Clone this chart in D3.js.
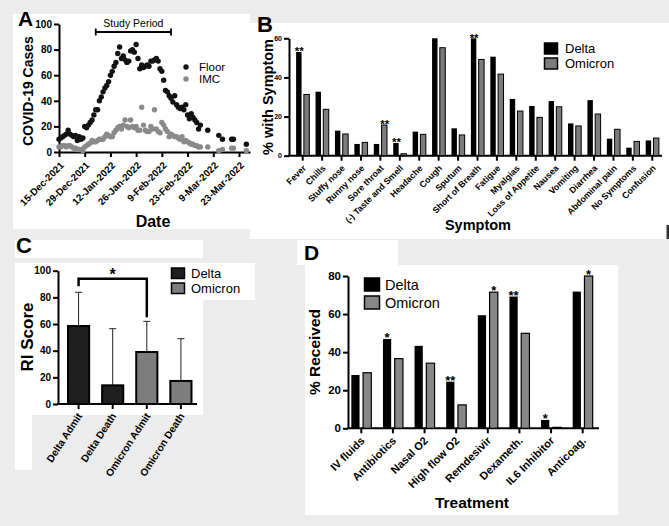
<!DOCTYPE html>
<html><head><meta charset="utf-8">
<script src="https://cdn.jsdelivr.net/npm/d3@7"></script>
<style>body{margin:0;background:#ececec} svg{display:block}</style>
</head><body><svg id="fig" width="669" height="526"></svg>
<script>
// ---------- DATA ----------
// Panel A
const caseDates = ["2021-12-15","2021-12-16","2021-12-17","2021-12-18","2021-12-19","2021-12-20","2021-12-21","2021-12-22","2021-12-23","2021-12-24","2021-12-25","2021-12-26","2021-12-27","2021-12-28","2021-12-29","2021-12-30","2021-12-31",
"2022-01-01","2022-01-02","2022-01-03","2022-01-04","2022-01-05","2022-01-06","2022-01-07","2022-01-08","2022-01-09","2022-01-10","2022-01-11","2022-01-12","2022-01-13","2022-01-14","2022-01-15","2022-01-16","2022-01-17","2022-01-18","2022-01-19","2022-01-20","2022-01-21","2022-01-22","2022-01-23","2022-01-24","2022-01-25","2022-01-26","2022-01-27","2022-01-28","2022-01-29","2022-01-30","2022-01-31",
"2022-02-01","2022-02-02","2022-02-03","2022-02-04","2022-02-05","2022-02-06","2022-02-07","2022-02-08","2022-02-09","2022-02-10","2022-02-11","2022-02-12","2022-02-13","2022-02-14","2022-02-15","2022-02-16","2022-02-17","2022-02-18","2022-02-19","2022-02-20","2022-02-21","2022-02-22","2022-02-23","2022-02-24","2022-02-25","2022-02-26","2022-02-27","2022-02-28",
"2022-03-01","2022-03-02","2022-03-06","2022-03-12","2022-03-14","2022-03-19","2022-03-20","2022-03-27"];
const floorCases = [10,11,12,13,14,17,14,13,12,13, 9,12,10,11,20,19,21,23,25,29, 33,33,40,43,47,50,52,55,60,63, 67,70,77,82,73,75,72,70,71,79, 80,78,84,73,65,68,66,67,68,67, 71,71,72,73,71,65,63,56,48,47, 44,42,39,44,37,35,34,35,33,37, 29,26,30,27,25,23,18,21, 17,13,10,10,10,6];
const imcCases = [4,4,5,5,4,5,5,4,3,3, 2,2,2,1,4,5,6,7,9,8, 8,9,10,10,10,12,14,13,12,12, 15,17,19,20,18,21,25,20,19,25, 20,19,20,17,17,35,21,17,16,16, 20,18,33,18,16,15,23,21,18,16, 12,14,13,12,12,11,10,12,8,9, 8,7,6,6,5,5,4,4, 4,1,2,3,3,1];
const dateTicks = ["2021-12-15","2021-12-29","2022-01-12","2022-01-26","2022-02-09","2022-02-23","2022-03-09","2022-03-23"];
const dateTickLabels = ["15-Dec-2021","29-Dec-2021","12-Jan-2022","26-Jan-2022","9-Feb-2022","23-Feb-2022","9-Mar-2022","23-Mar-2022"];
const studyPeriod = ["2022-01-04","2022-02-14"];
const casesTicks = [0,20,40,60,80,100];

// Panel B
const symptoms = ["Fever","Chills","Stuffy nose","Runny nose","Sore throat","(-) Taste and Smell","Headache","Cough","Sputum","Short of Breath","Fatigue","Myalgias","Loss of Appetite","Nausea","Vomiting","Diarrhea","Abdominal pain","No Symptoms","Confusion"];
const symptomDelta   = [53,32.7,12.8,6,6,6.5,12.3,60,14,60,50.6,29,25.4,27.9,16.5,28.4,8.7,4.1,7.8];
const symptomOmicron = [31.3,23.7,11.1,6.8,15.7,1,10.9,55.2,10.6,49.2,41.7,22.8,19.6,25,15.2,21.3,13.5,7.3,9];
const symptomDeltaSig   = ["**","","","","","**","","","","**","","","","","","","","",""];
const symptomOmicronSig = ["","","","","**","","","","","","","","","","","","","",""];
const symptomTicks = [0,20,40,60];

// Panel C
const riGroups = ["Delta Admit","Delta Death","Omicron Admit","Omicron Death"];
const riVariant = ["Delta","Delta","Omicron","Omicron"];
const riMean = [58.5,14,39,17.3];
const riSD = [25.3,42.5,23,31.7];
const riCompare = ["Delta Admit","Omicron Admit","*"];
const riTicks = [0,20,40,60,80,100];

// Panel D
const treatments = ["IV fluids","Antibiotics","Nasal O2","High flow O2","Remdesivir","Dexameth.","IL6 Inhibitor","Anticoag."];
const treatDelta   = [28,46.9,43.3,24.5,59.4,69.2,4.4,71.8];
const treatOmicron = [29.2,36.6,34.2,12.3,71.5,49.9,0.5,80];
const treatDeltaSig   = ["","*","","**","","**","*",""];
const treatOmicronSig = ["","","","","*","","","*"];
const treatTicks = [0,20,40,60,80];

const variants = ["Delta","Omicron"];

// ---------- DRAW ----------
const FONT = '"Liberation Sans", Arial, Helvetica, sans-serif';
const svg = d3.select("#fig").attr("font-family", FONT);
svg.append("rect").attr("width",669).attr("height",526).attr("fill","#ececec");
const bgW = svg.append("g").attr("fill","#fff");
[[13,14,237,215],[250,23,419,216],[15,240,188,18],[15,263,188,152],[15,415,17,55],[203,263,52,37],[297,240,101,25],[305,265,313,250]]
  .forEach(r => bgW.append("rect").attr("x",r[0]).attr("y",r[1]).attr("width",r[2]).attr("height",r[3]));
svg.append("rect").attr("x",666.5).attr("y",225).attr("width",2.5).attr("height",14).attr("fill","#333");

function styleAxis(g, fs, sw) {
  g.attr("font-family", FONT).attr("font-size", fs).attr("font-weight","bold");
  g.select(".domain").attr("stroke","#000").attr("stroke-width", sw);
  g.selectAll(".tick line").attr("stroke","#000").attr("stroke-width", sw);
  g.selectAll(".tick text").attr("fill","#000");
}
function rotate(g, angle, dx, dy) {
  g.selectAll(".tick text").attr("x",0).attr("y",0).attr("dy","0")
   .attr("text-anchor","end").attr("transform",`translate(${dx},${dy}) rotate(${angle})`);
}
function panelLabel(t, x, y, fs) {
  svg.append("text").attr("x",x).attr("y",y).attr("font-size",fs).attr("font-weight","bold").text(t);
}
function yTitle(t, x, y, fs) {
  svg.append("text").attr("transform",`translate(${x},${y}) rotate(-90)`).attr("text-anchor","middle")
    .attr("font-size",fs).attr("font-weight","bold").text(t);
}
function xTitle(t, x, y, fs) {
  svg.append("text").attr("x",x).attr("y",y).attr("text-anchor","middle").attr("font-size",fs).attr("font-weight","bold").text(t);
}

// ===== Panel A =====
const parse = d3.timeParse("%Y-%m-%d");
const xA = d3.scaleTime().domain([parse("2021-12-15"), parse("2022-03-29")]).range([59, 250]);
const yA = d3.scaleLinear().domain([0,100]).range([152, 24]);
const gAy = svg.append("g").attr("transform","translate(59,0)")
  .call(d3.axisLeft(yA).tickValues(casesTicks).tickSize(5).tickSizeOuter(0).tickPadding(2));
styleAxis(gAy, 10, 2);
const gAx = svg.append("g").attr("transform","translate(0,152)")
  .call(d3.axisBottom(xA).tickValues(dateTicks.map(parse)).tickSize(5).tickSizeOuter(0)
    .tickFormat((d,i) => dateTickLabels[i]));
styleAxis(gAx, 9.8, 2);
rotate(gAx, -45, 5, 14);
const ptsA = caseDates.map((d,i) => ({d: parse(d), floor: floorCases[i], imc: imcCases[i]}));
svg.append("g").selectAll("circle").data(ptsA).join("circle")
  .attr("cx", p => xA(p.d)).attr("cy", p => yA(p.imc)).attr("r", 2.7).attr("fill","#8a8a8a");
svg.append("g").selectAll("circle").data(ptsA).join("circle")
  .attr("cx", p => xA(p.d)).attr("cy", p => yA(p.floor)).attr("r", 2.7).attr("fill","#121212");
// study period bracket
{
  const x0 = xA(parse(studyPeriod[0])), x1 = xA(parse(studyPeriod[1]));
  svg.append("path").attr("d",`M${x0},28.5V35.5M${x0},32H${x1}M${x1},28.5V35.5`).attr("stroke","#000").attr("stroke-width",1.8).attr("fill","none");
  svg.append("text").attr("x",(x0+x1)/2).attr("y",27).attr("text-anchor","middle").attr("font-size",10.5).text("Study Period");
}
// legend A
[["Floor","#121212",67],["IMC","#8a8a8a",79]].forEach(l => {
  svg.append("circle").attr("cx",186).attr("cy",l[2]).attr("r",2.7).attr("fill",l[1]);
  svg.append("text").attr("x",199).attr("y",l[2]+4).attr("font-size",11.5).text(l[0]);
});
yTitle("COVID-19 Cases", 33, 91, 14);
xTitle("Date", 153, 227, 16);
panelLabel("A", 18, 26, 21);

// ===== Panel B =====
const xB = d3.scaleBand().domain(symptoms).range([293, 662]).paddingInner(0).paddingOuter(0);
const xB1 = d3.scaleBand().domain(variants).range([-6.6, 6.6]).paddingInner(0.3);
const yB = d3.scaleLinear().domain([0,60]).range([155.7, 38.3]);
const gBy = svg.append("g").attr("transform","translate(289,0)")
  .call(d3.axisLeft(yB).tickValues(symptomTicks).tickSize(5).tickSizeOuter(0).tickPadding(2));
styleAxis(gBy, 7, 2);
const gBx = svg.append("g").attr("transform","translate(0,155.7)")
  .call(d3.axisBottom(xB).tickSize(5).tickSizeOuter(0));
styleAxis(gBx, 8.8, 2);
gBx.select(".domain").remove();
svg.append("line").attr("x1",288).attr("x2",662).attr("y1",155.7).attr("y2",155.7).attr("stroke","#000").attr("stroke-width",2);
rotate(gBx, -45, 4, 13);
const barsB = symptoms.flatMap((s,i) => [
  {cat:s, v:"Delta", val:symptomDelta[i], sig:symptomDeltaSig[i]},
  {cat:s, v:"Omicron", val:symptomOmicron[i], sig:symptomOmicronSig[i]}]);
svg.append("g").selectAll("rect").data(barsB).join("rect")
  .attr("x", d => xB(d.cat) + xB.bandwidth()/2 + xB1(d.v))
  .attr("y", d => yB(d.val)).attr("width", xB1.bandwidth())
  .attr("height", d => yB(0) - yB(d.val))
  .attr("fill", d => d.v === "Delta" ? "#000" : "#7c7c7c")
  .attr("stroke","#000").attr("stroke-width", d => d.v === "Delta" ? 0 : 1);
svg.append("g").selectAll("text").data(barsB.filter(d => d.sig)).join("text")
  .attr("x", d => xB(d.cat) + xB.bandwidth()/2 + xB1(d.v) + xB1.bandwidth()/2 + 0.5)
  .attr("y", d => yB(d.val) + 3.5).attr("text-anchor","middle").attr("font-size",11.5).attr("font-weight","bold")
  .text(d => d.sig);
[["Delta","#000",43],["Omicron","#7c7c7c",58]].forEach(l => {
  svg.append("rect").attr("x",544.5).attr("y",l[2]).attr("width",13).attr("height",11)
    .attr("fill",l[1]).attr("stroke","#000").attr("stroke-width",1.5);
  svg.append("text").attr("x",565).attr("y",l[2]+10).attr("font-size",13).text(l[0]);
});
yTitle("% with Symptom", 273, 97, 14.5);
xTitle("Symptom", 478, 230, 14.5);
panelLabel("B", 257, 32, 22);

// ===== Panel C =====
const xC = d3.scaleBand().domain(riGroups).range([68, 191.5]).paddingInner(0.38).paddingOuter(0);
const yC = d3.scaleLinear().domain([0,100]).range([404, 270.7]);
const gCy = svg.append("g").attr("transform","translate(58,0)")
  .call(d3.axisLeft(yC).tickValues(riTicks).tickSize(5).tickSizeOuter(0).tickPadding(2));
styleAxis(gCy, 10, 2);
const gCx = svg.append("g").attr("transform","translate(0,404)")
  .call(d3.axisBottom(xC).tickSize(5).tickSizeOuter(0));
styleAxis(gCx, 10.2, 2);
gCx.select(".domain").remove();
svg.append("line").attr("x1",57).attr("x2",197).attr("y1",404).attr("y2",404).attr("stroke","#000").attr("stroke-width",2);
rotate(gCx, -57, 4, 12);
const dC = riGroups.map((g,i) => ({g, v:riVariant[i], m:riMean[i], sd:riSD[i]}));
const gC = svg.append("g");
dC.forEach(d => {
  const cx = xC(d.g) + xC.bandwidth()/2;
  gC.append("line").attr("x1",cx).attr("x2",cx).attr("y1",yC(d.m)).attr("y2",yC(d.m+d.sd)).attr("stroke","#222").attr("stroke-width",1);
  gC.append("line").attr("x1",cx-3.5).attr("x2",cx+3.5).attr("y1",yC(d.m+d.sd)).attr("y2",yC(d.m+d.sd)).attr("stroke","#222").attr("stroke-width",1);
});
gC.selectAll("rect").data(dC).join("rect")
  .attr("x", d => xC(d.g)).attr("y", d => yC(d.m)).attr("width", xC.bandwidth())
  .attr("height", d => yC(0) - yC(d.m))
  .attr("fill", d => d.v === "Delta" ? "#1e1e1e" : "#7d7d7d").attr("stroke","#000").attr("stroke-width",2);
{
  const a = dC.find(d => d.g === riCompare[0]), b = dC.find(d => d.g === riCompare[1]);
  const xa = xC(a.g) + xC.bandwidth()/2, xb = xC(b.g) + xC.bandwidth()/2;
  const yTop = yC(94);
  svg.append("path").attr("d",`M${xa},${yC(a.m+a.sd)-6}V${yTop}H${xb}V${yC(b.m+b.sd)-4}`)
    .attr("fill","none").attr("stroke","#000").attr("stroke-width",2.5);
  svg.append("text").attr("x",(xa+xb)/2).attr("y",yTop+1.5).attr("text-anchor","middle").attr("font-size",16).attr("font-weight","bold").text(riCompare[2]);
}
[["Delta","#1e1e1e",268],["Omicron","#7d7d7d",283]].forEach(l => {
  svg.append("rect").attr("x",171.5).attr("y",l[2]).attr("width",13).attr("height",10.5)
    .attr("fill",l[1]).attr("stroke","#000").attr("stroke-width",1.5);
  svg.append("text").attr("x",191).attr("y",l[2]+10).attr("font-size",13).text(l[0]);
});
yTitle("RI Score", 33, 337, 17);
panelLabel("C", 16, 253, 22);

// ===== Panel D =====
const xD = d3.scaleBand().domain(treatments).range([345.5, 598.5]).paddingInner(0).paddingOuter(0);
const xD1 = d3.scaleBand().domain(variants).range([-10, 10]).paddingInner(0.3);
const yD = d3.scaleLinear().domain([0,80]).range([428.3, 276]);
const gDy = svg.append("g").attr("transform","translate(348,0)")
  .call(d3.axisLeft(yD).tickValues(treatTicks).tickSize(5).tickSizeOuter(0).tickPadding(2));
styleAxis(gDy, 11.5, 2);
const gDx = svg.append("g").attr("transform","translate(0,428.3)")
  .call(d3.axisBottom(xD).tickSize(5).tickSizeOuter(0));
styleAxis(gDx, 11, 2);
gDx.select(".domain").remove();
svg.append("line").attr("x1",347).attr("x2",599).attr("y1",428.3).attr("y2",428.3).attr("stroke","#000").attr("stroke-width",2);
rotate(gDx, -45, 4, 13);
const barsD = treatments.flatMap((t,i) => [
  {cat:t, v:"Delta", val:treatDelta[i], sig:treatDeltaSig[i]},
  {cat:t, v:"Omicron", val:treatOmicron[i], sig:treatOmicronSig[i]}]);
svg.append("g").selectAll("rect").data(barsD).join("rect")
  .attr("x", d => xD(d.cat) + xD.bandwidth()/2 + xD1(d.v))
  .attr("y", d => yD(d.val)).attr("width", xD1.bandwidth())
  .attr("height", d => yD(0) - yD(d.val))
  .attr("fill", d => d.v === "Delta" ? "#000" : "#878787")
  .attr("stroke","#000").attr("stroke-width", d => d.v === "Delta" ? 0 : 1.2);
svg.append("g").selectAll("text").data(barsD.filter(d => d.sig)).join("text")
  .attr("x", d => xD(d.cat) + xD.bandwidth()/2 + xD1(d.v) + xD1.bandwidth()/2)
  .attr("y", d => yD(d.val) + 3).attr("text-anchor","middle").attr("font-size",13).attr("font-weight","bold")
  .text(d => d.sig);
[["Delta","#000",278],["Omicron","#878787",296]].forEach(l => {
  svg.append("rect").attr("x",364.5).attr("y",l[2]).attr("width",15).attr("height",13)
    .attr("fill",l[1]).attr("stroke","#000").attr("stroke-width",1.5);
  svg.append("text").attr("x",385).attr("y",l[2]+12).attr("font-size",14.5).text(l[0]);
});
yTitle("% Received", 320, 352, 15.5);
xTitle("Treatment", 472, 508, 15.5);
panelLabel("D", 304, 260, 21);
</script></body></html>
